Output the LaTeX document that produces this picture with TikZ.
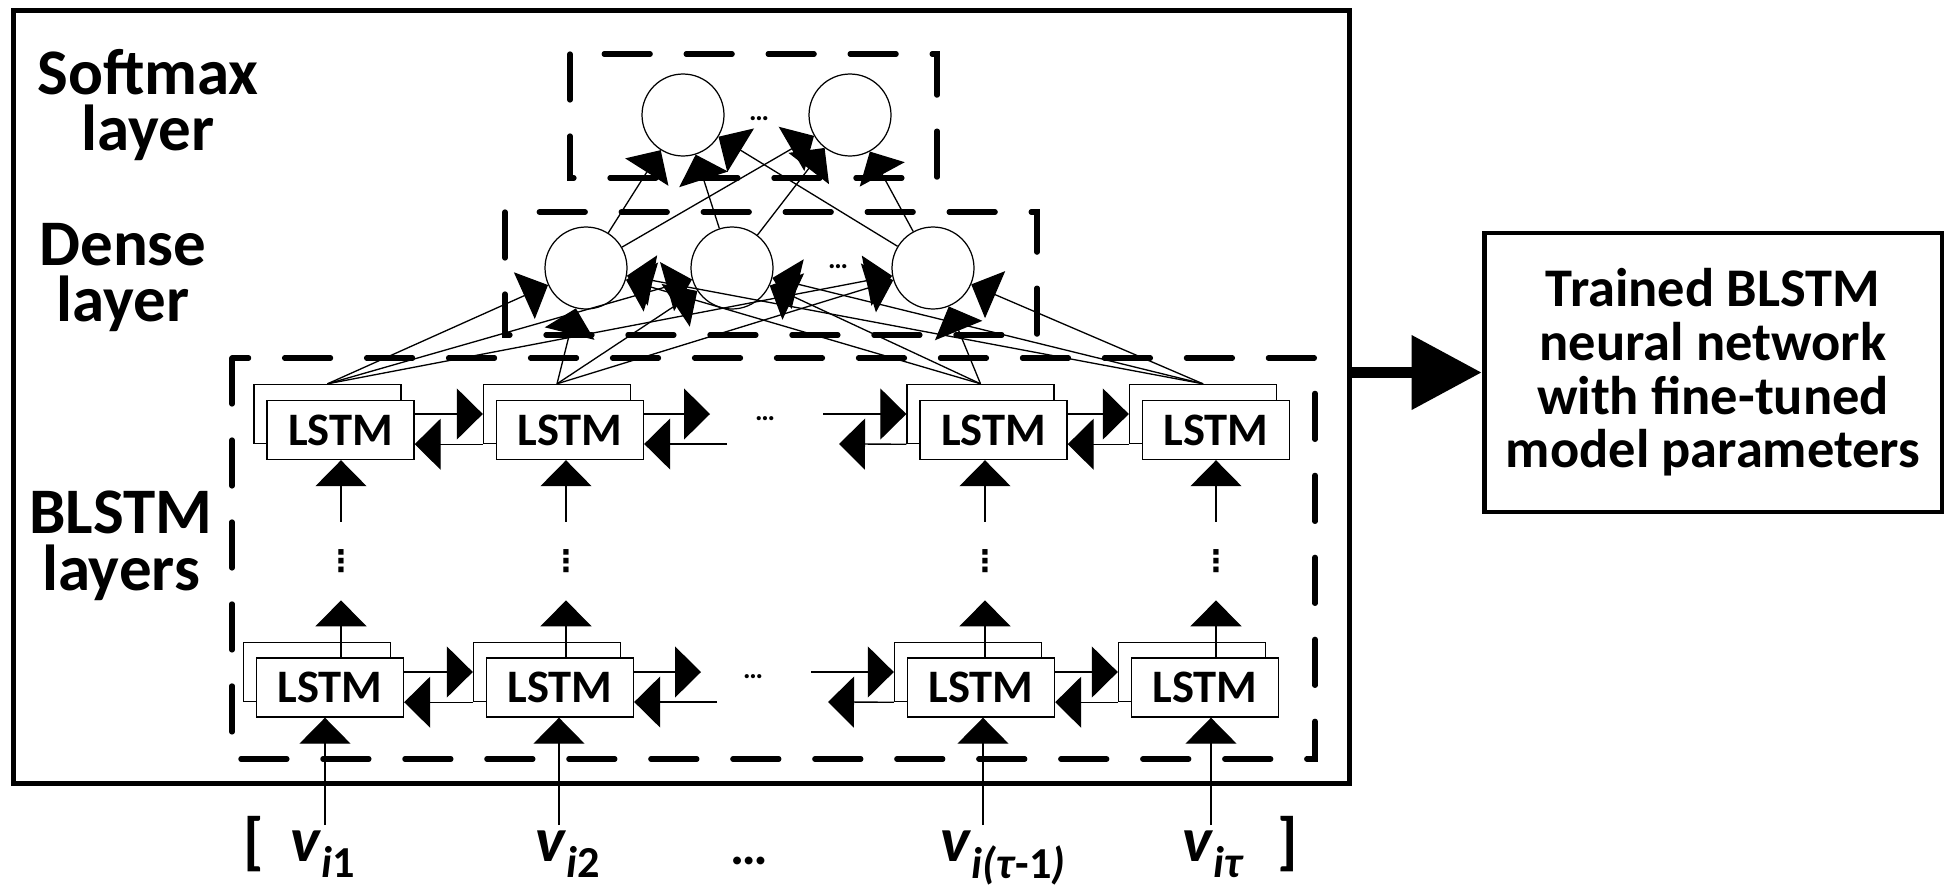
\documentclass[tikz,border=0pt]{standalone}
\usepackage{fontspec}
\setmainfont{Carlito}
\newfontfamily\dotsfont{DejaVu Sans}
\usetikzlibrary{arrows.meta,positioning}

\tikzset{
  layerbox/.style={line width=3pt, line cap=round, dash pattern=on 0.92cm off 0.72cm},
  lstmbox/.style={draw, fill=white, line width=0.8pt, minimum width=2.94cm, minimum height=1.18cm, inner sep=0pt, font=\fontsize{26.5}{30}\selectfont\bfseries},
  neuron/.style={draw, circle, line width=0.7pt, minimum size=1.64cm, inner sep=0pt},
  arr/.style={-{Triangle[length=0.52cm,width=1.02cm]}, line width=0.75pt},
  bigarr/.style={-{Triangle[length=1.4cm,width=1.44cm]}, line width=0.22cm},
  layerlab/.style={align=center, anchor=north, inner sep=0pt, font=\fontsize{37}{32}\selectfont\bfseries},
  vlab/.style={anchor=base west, inner sep=0pt, font=\fontsize{36}{40}\selectfont\bfseries},
  smalldots/.style={inner sep=0pt, font=\fontsize{16}{16}\selectfont\bfseries},
  vdotsnode/.style={inner sep=0pt, minimum height=1.56cm, font=\fontsize{17}{17}\dotsfont\bfseries},
}

\begin{document}
\begin{tikzpicture}[x=0.02cm,y=-0.02cm]
        \useasboundingbox (0,0) rectangle (1946,889);

        % Outer frame
        \node[draw, line width=2.8pt, minimum width=26.74cm, minimum height=15.48cm, inner sep=0pt] (outer) at (681.5,397) {};

        % Layer boxes
        \draw[layerbox] (570,54) rectangle (937,178);
        \draw[layerbox] (505,212) rectangle (1037,335);
        \draw[layerbox] (232,358) rectangle (1315,759);

        % Layer labels
        \node[layerlab] (softlab) at (148,49) {Softmax\\layer};
        \node[layerlab] (denselab) at (123,223) {Dense\\layer};
        \node[layerlab] (blstmlab) at (121,491) {BLSTM\\layers};

        % Softmax layer
        \node[neuron] (s1) at (683,115) {};
        \node[neuron] (s2) at (850,115) {};
        \node[smalldots] (sdots) at (759,119) {…};

        % Dense layer
        \node[neuron] (d1) at (586,268) {};
        \node[neuron] (d2) at (732,268) {};
        \node[neuron] (d3) at (933,268) {};
        \node[smalldots] (ddots) at (838,267) {…};

        % LSTM rows
        \foreach \n/\x in {1/340.5,2/570,3/993.5,4/1216}{
            \node[lstmbox] (ub\n) at (\x-13,414) {};
            \node[lstmbox] (uf\n) at (\x,430) {LSTM};
        }
        \foreach \n/\x in {1/330,2/560,3/981,4/1205}{
            \node[lstmbox] (lb\n) at (\x-13,672) {};
            \node[lstmbox] (lf\n) at (\x,687.5) {LSTM};
        }
        \node[smalldots] (udots) at (765,419) {…};
        \node[smalldots] (ldots) at (753,677) {…};

        % Upper row, both directions
        \draw[arr] (uf1.east |- ub2.west) -- (ub2.west);
        \draw[arr] (ub2.south west) -- (ub2.south west -| uf1.east);
        \draw[arr] (uf3.east |- ub4.west) -- (ub4.west);
        \draw[arr] (ub4.south west) -- (ub4.south west -| uf3.east);
        \coordinate (ufwd) at (710,414);
        \coordinate (ubwd) at (727,444);
        \coordinate (ufwd3) at (823,414);
        \coordinate (ubwd3) at (839,444);
        \draw[arr] (uf2.east |- ufwd) -- (ufwd);
        \draw[arr] (ubwd) -- (ubwd -| uf2.east);
        \draw[arr] (ufwd3) -- (ufwd3 -| ub3.west);
        \draw[arr] (ub3.south west) -- (ubwd3);

        % Lower row, both directions
        \draw[arr] (lf1.east |- lb2.west) -- (lb2.west);
        \draw[arr] (lb2.south west) -- (lb2.south west -| lf1.east);
        \draw[arr] (lf3.east |- lb4.west) -- (lb4.west);
        \draw[arr] (lb4.south west) -- (lb4.south west -| lf3.east);
        \coordinate (lfwd) at (701,672);
        \coordinate (lbwd) at (717,702);
        \coordinate (lfwd3) at (811,672);
        \coordinate (lbwd3) at (828,702);
        \draw[arr] (lf2.east |- lfwd) -- (lfwd);
        \draw[arr] (lbwd) -- (lbwd -| lf2.east);
        \draw[arr] (lfwd3) -- (lfwd3 -| lb3.west);
        \draw[arr] (lb3.south west) -- (lbwd3);

        % Between the rows
        \foreach \n/\x in {1/341,2/566,3/985,4/1216}{
            \node[vdotsnode] (dt\n) at (\x,561) {⋮};
            \draw[arr] (dt\n.south |- lf\n.north) -- (dt\n.south);
            \draw[arr] (dt\n.north) -- (dt\n.north |- uf\n.south);
        }

        % Inputs
        \foreach \n/\x in {1/325,2/559,3/983,4/1211}{
            \coordinate (in\n) at (\x,825);
            \draw[arr] (in\n) -- (in\n |- lf\n.south);
        }
        \node[vlab] (lbr) at (243,862) {[};
        \node[vlab] (v1) at (290,861) {\textit{v}\textsubscript{\textit{i}1}};
        \node[vlab] (v2) at (535,861) {\textit{v}\textsubscript{\textit{i}2}};
        \node[vlab, font=\fontsize{30}{36}\selectfont\bfseries, anchor=base] (vdots) at (749,864) {…};
        \node[vlab] (v3) at (940,861) {\textit{v}\textsubscript{\textit{i(τ}-1\textit{)}}};
        \node[vlab] (v4) at (1182,861) {\textit{v}\textsubscript{\textit{iτ}}};
        \node[vlab, anchor=base east] (rbr) at (1298,862) {]};

        % Fully connected
        \foreach \i in {1,...,4}{
            \foreach \j in {1,2,3}{
                \draw[arr] (ub\i.north) -- (d\j);
            }
        }
        \foreach \i in {1,2,3}{
            \foreach \j in {1,2}{
                \draw[arr] (d\i) -- (s\j);
            }
        }

        % Result
        \node[draw, line width=2.8pt, minimum width=9.16cm, minimum height=5.58cm, inner sep=0pt, align=center, font=\fontsize{31}{30.5}\selectfont\bfseries] (result) at (1713,372.5) {Trained BLSTM\\neural network\\with fine-tuned\\model parameters};
        \draw[bigarr] (outer.east |- result.west) -- (result.west);

    \end{tikzpicture}
\end{document}
